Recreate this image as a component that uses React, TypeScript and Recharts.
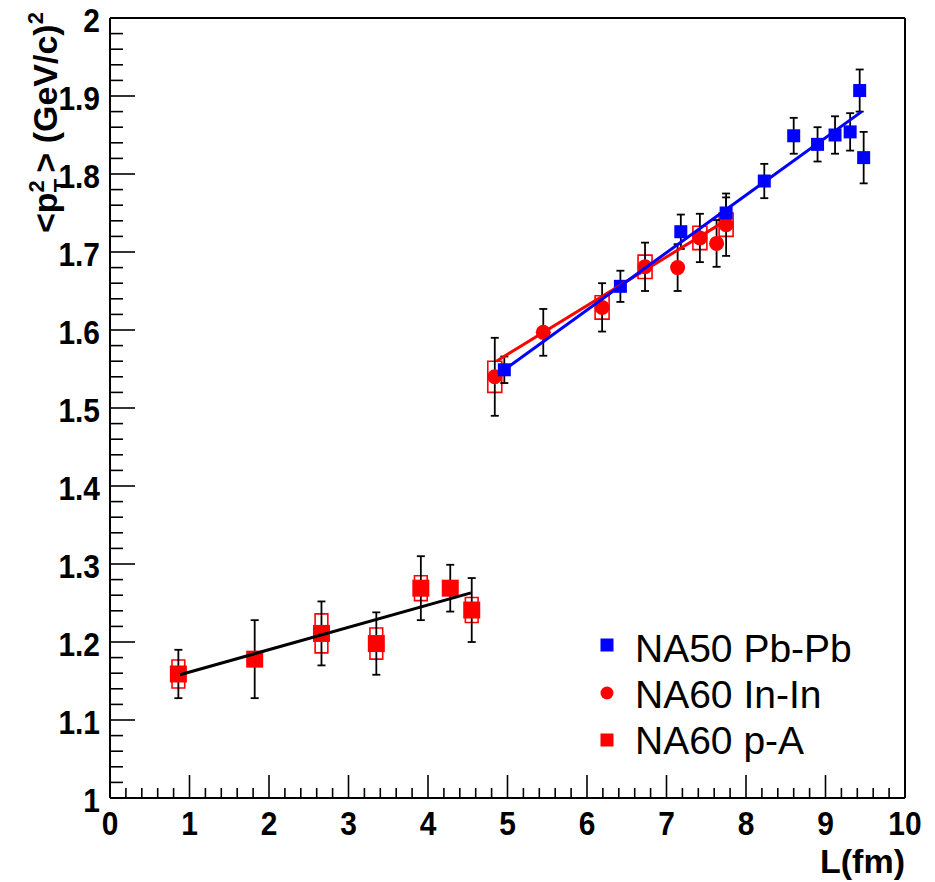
import React from 'react';
import {
  ScatterChart, Scatter, XAxis, YAxis, ErrorBar, ReferenceArea, ReferenceLine, Label
} from 'recharts';

// NA50 Pb-Pb
const PBPB_L = [4.96, 6.42, 7.18, 7.75, 8.23, 8.6, 8.9, 9.12, 9.31, 9.43, 9.48];
const PBPB_PT2 = [1.549, 1.656, 1.726, 1.75, 1.791, 1.849, 1.838, 1.85, 1.854, 1.907, 1.821];
const PBPB_ERR = [0.017, 0.02, 0.022, 0.02, 0.022, 0.023, 0.022, 0.024, 0.024, 0.027, 0.033];

// NA60 In-In
const ININ_L = [4.84, 5.45, 6.19, 6.73, 7.14, 7.42, 7.63, 7.75];
const ININ_PT2 = [1.54, 1.597, 1.629, 1.681, 1.68, 1.718, 1.711, 1.735];
const ININ_ERR = [0.05, 0.03, 0.031, 0.031, 0.03, 0.031, 0.03, 0.04];
const ININ_SYS = [0.02, 0, 0.015, 0.015, 0, 0.015, 0, 0.015];

// NA60 p-A
const PA_L = [0.86, 1.82, 2.66, 3.35, 3.91, 4.28, 4.55];
const PA_PT2 = [1.159, 1.178, 1.211, 1.198, 1.269, 1.269, 1.241];
const PA_ERR = [0.031, 0.05, 0.041, 0.04, 0.041, 0.03, 0.041];
const PA_SYS = [0.018, 0, 0.025, 0.02, 0.016, 0, 0.016];

// linear fits (end points)
const FIT_PA_L = [0.88, 4.54];
const FIT_PA_PT2 = [1.158, 1.263];
const FIT_ININ_L = [4.86, 7.71];
const FIT_ININ_PT2 = [1.56, 1.738];
const FIT_PBPB_L = [4.96, 9.455];
const FIT_PBPB_PT2 = [1.549, 1.88];

const X_LABELS = [0, 1, 2, 3, 4, 5, 6, 7, 8, 9, 10];
const Y_LABELS = [1, 1.1, 1.2, 1.3, 1.4, 1.5, 1.6, 1.7, 1.8, 1.9, 2];
const X_DIVS = 5;
const Y_DIVS = 5;

const LEGEND = ['NA50 Pb-Pb', 'NA60 In-In', 'NA60 p-A'];

const BLUE = '#0000ff';
const RED = '#ff0000';
const FONT = '"Liberation Sans", Arial, sans-serif';

const withMinor = (majors: number[], divs: number) => {
  const out: number[] = [];
  for (let i = 0; i < majors.length - 1; i++) {
    const step = (majors[i + 1] - majors[i]) / divs;
    for (let k = 0; k < divs; k++) out.push(Math.round((majors[i] + k * step) * 1000) / 1000);
  }
  out.push(majors[majors.length - 1]);
  return out;
};

const X_TICKS = withMinor(X_LABELS, X_DIVS);
const Y_TICKS = withMinor(Y_LABELS, Y_DIVS);

const isMajor = (v: number, majors: number[]) => majors.some((m) => Math.abs(m - v) < 1e-6);

const zip = (xs: number[], ys: number[], err?: number[], sys?: number[]) =>
  xs.map((x, i) => ({ x, y: ys[i], err: err ? err[i] : 0, sys: sys ? sys[i] : 0 }));

const pbpb = zip(PBPB_L, PBPB_PT2, PBPB_ERR);
const inin = zip(ININ_L, ININ_PT2, ININ_ERR, ININ_SYS);
const pa = zip(PA_L, PA_PT2, PA_ERR, PA_SYS);
const fitPa = zip(FIT_PA_L, FIT_PA_PT2);
const fitInin = zip(FIT_ININ_L, FIT_ININ_PT2);
const fitPbpb = zip(FIT_PBPB_L, FIT_PBPB_PT2);

const YTick = (props: any) => {
  const { x, y, payload } = props;
  const major = isMajor(payload.value, Y_LABELS);
  return (
    <g>
      <line x1={x} x2={x + (major ? 25 : 13)} y1={y} y2={y} stroke="#000" strokeWidth={1.6} />
      {major && (
        <text
          transform={`translate(${x - 10},${y + 14}) scale(0.88,1)`}
          textAnchor="end" fontSize={34} fontWeight="bold" fontFamily={FONT} fill="#000"
        >
          {String(Number(payload.value.toFixed(1)))}
        </text>
      )}
    </g>
  );
};

const XTick = (props: any) => {
  const { x, y, payload } = props;
  const major = isMajor(payload.value, X_LABELS);
  return (
    <g>
      <line x1={x} x2={x} y1={y} y2={y - (major ? 23 : 10)} stroke="#000" strokeWidth={1.6} />
      {major && (
        <text
          transform={`translate(${x},${y + 37}) scale(0.88,1)`}
          textAnchor="middle" fontSize={34} fontWeight="bold" fontFamily={FONT} fill="#000"
        >
          {String(payload.value)}
        </text>
      )}
    </g>
  );
};

const YTitle = () => (
  <text
    x={57} y={233} transform="rotate(-90 57 233)"
    fontSize={34} fontWeight="bold" fontFamily={FONT} fill="#000"
  >
    <tspan>&lt;p</tspan>
    <tspan dy={-13} fontSize={22}>2</tspan>
    <tspan dx={-12} dy={25} fontSize={22}>T</tspan>
    <tspan dx={6} dy={-12}>&gt; (GeV/c)</tspan>
    <tspan dy={-14} fontSize={22}>2</tspan>
  </text>
);

const XTitle = () => (
  <text x={905} y={873} textAnchor="end" fontSize={34} fontWeight="bold" fontFamily={FONT} fill="#000">
    L(fm)
  </text>
);

const square = (size: number, color: string) => (props: any) =>
  <rect x={props.cx - size / 2} y={props.cy - size / 2} width={size} height={size} fill={color} />;

const dot = (r: number, color: string) => (props: any) =>
  <circle cx={props.cx} cy={props.cy} r={r} fill={color} />;

const noShape = () => <g />;

const App: React.FC = () => {
  return (
    <div style={{ position: 'absolute', left: 0, top: 0, width: 935, height: 882, background: '#fff' }}>
      <ScatterChart width={935} height={882} margin={{ top: 18, right: 30, left: 0, bottom: 0 }}>
        <XAxis
          type="number" dataKey="x" domain={[0, 10]} ticks={X_TICKS} interval={0}
          height={84} tickSize={0} tickMargin={0} tickLine={false}
          axisLine={{ stroke: '#000', strokeWidth: 2 }} tick={<XTick />} allowDataOverflow
        >
          <Label content={<XTitle />} />
        </XAxis>
        <YAxis
          type="number" dataKey="y" domain={[1, 2]} ticks={Y_TICKS} interval={0}
          width={110} tickSize={0} tickMargin={0} tickLine={false}
          axisLine={{ stroke: '#000', strokeWidth: 2 }} tick={<YTick />} allowDataOverflow
        >
          <Label content={<YTitle />} />
        </YAxis>
        <ReferenceLine y={2} stroke="#000" strokeWidth={2} />
        <ReferenceLine x={10} stroke="#000" strokeWidth={2} />

        {inin.filter((d) => d.sys > 0).map((d, i) => (
          <ReferenceArea
            key={`ii${i}`} x1={d.x - 0.088} x2={d.x + 0.088} y1={d.y - d.sys} y2={d.y + d.sys}
            fill="none" stroke={RED} strokeWidth={1.6} fillOpacity={0}
          />
        ))}
        {pa.filter((d) => d.sys > 0).map((d, i) => (
          <ReferenceArea
            key={`pa${i}`} x1={d.x - 0.08} x2={d.x + 0.08} y1={d.y - d.sys} y2={d.y + d.sys}
            fill="none" stroke={RED} strokeWidth={1.6} fillOpacity={0}
          />
        ))}

        <Scatter data={pa} shape={square(17, RED)} isAnimationActive={false}>
          <ErrorBar dataKey="err" direction="y" width={4} stroke="#000" strokeWidth={1.8} />
        </Scatter>
        <Scatter data={inin} shape={dot(7.5, RED)} isAnimationActive={false}>
          <ErrorBar dataKey="err" direction="y" width={4} stroke="#000" strokeWidth={1.8} />
        </Scatter>
        <Scatter data={pbpb} shape={square(13, BLUE)} isAnimationActive={false}>
          <ErrorBar dataKey="err" direction="y" width={4} stroke="#000" strokeWidth={1.8} />
        </Scatter>

        <Scatter data={fitPa} shape={noShape} line={{ stroke: '#000', strokeWidth: 3 }} isAnimationActive={false} />
        <Scatter data={fitInin} shape={noShape} line={{ stroke: RED, strokeWidth: 3 }} isAnimationActive={false} />
        <Scatter data={fitPbpb} shape={noShape} line={{ stroke: BLUE, strokeWidth: 3 }} isAnimationActive={false} />
      </ScatterChart>

      <svg width={935} height={882} style={{ position: 'absolute', left: 0, top: 0, pointerEvents: 'none' }}>
        <rect x={600.5} y={638.5} width={13} height={13} fill={BLUE} />
        <circle cx={607} cy={693} r={6.5} fill={RED} />
        <rect x={600.5} y={733.5} width={13} height={13} fill={RED} />
        {LEGEND.map((t, i) => (
          <text key={t} x={635} y={662 + i * 46} fontSize={39} fontFamily={FONT} fill="#000">{t}</text>
        ))}
      </svg>
    </div>
  );
};

export default App;
